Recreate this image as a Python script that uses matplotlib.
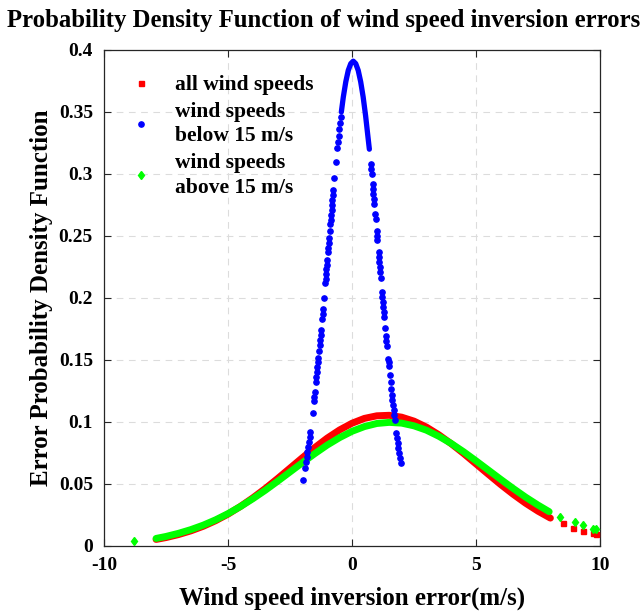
import matplotlib
matplotlib.use('Agg')
import matplotlib.pyplot as plt

# all wind speeds (dense part + isolated tail points)
all_x = [-7.9, -7.5, -7.0, -6.5, -6.0, -5.5, -5.0, -4.5, -4.0, -3.5, -3.0, -2.5, -2.0, -1.5, -1.0, -0.5,
         0.0, 0.5, 1.0, 1.5, 2.0, 2.5, 3.0, 3.5, 4.0, 4.5, 5.0, 5.5, 6.0, 6.5, 7.0, 7.5, 8.0]
all_y = [0.0053, 0.0068, 0.0092, 0.0122, 0.0159, 0.0204, 0.0257, 0.0319, 0.0388, 0.0463, 0.0544, 0.0628,
         0.0712, 0.0794, 0.0870, 0.0936, 0.0990, 0.1029, 0.1050, 0.1054, 0.1039, 0.1007, 0.0959, 0.0897,
         0.0825, 0.0746, 0.0662, 0.0578, 0.0495, 0.0417, 0.0345, 0.0281, 0.0225]
all_tail_x = [8.5, 8.9, 9.3, 9.7, 9.85]
all_tail_y = [0.0185, 0.0147, 0.0120, 0.0105, 0.0097]

# above 15 m/s
hi_x = [-7.9, -7.5, -7.0, -6.5, -6.0, -5.5, -5.0, -4.5, -4.0, -3.5, -3.0, -2.5, -2.0, -1.5, -1.0, -0.5,
        0.0, 0.5, 1.0, 1.5, 2.0, 2.5, 3.0, 3.5, 4.0, 4.5, 5.0, 5.5, 6.0, 6.5, 7.0, 7.5, 7.95]
hi_y = [0.0061, 0.0077, 0.0102, 0.0132, 0.0168, 0.0211, 0.0261, 0.0318, 0.0381, 0.0449, 0.0522, 0.0597,
        0.0672, 0.0745, 0.0814, 0.0874, 0.0925, 0.0963, 0.0988, 0.0997, 0.0991, 0.0969, 0.0934, 0.0885,
        0.0827, 0.0760, 0.0687, 0.0612, 0.0537, 0.0464, 0.0394, 0.0330, 0.0277]
hi_tail_x = [-8.8, 8.4, 9.0, 9.3, 9.7, 9.85]
hi_tail_y = [0.0040, 0.0234, 0.0194, 0.0170, 0.0137, 0.0135]

# below 15 m/s: dense top part + scattered samples
lo_top_x = [-0.43, -0.35, -0.25, -0.15, -0.05, 0.05, 0.15, 0.25, 0.35, 0.45, 0.55, 0.65, 0.70]
lo_top_y = [0.350, 0.3621, 0.3744, 0.3836, 0.389, 0.391, 0.389, 0.3836, 0.3744, 0.3621, 0.3467, 0.3288, 0.320]
lo_x = [-0.454, -0.483, -0.511, -0.539, -0.565, -0.591, -0.645, -0.706, -0.752, -0.770, -0.788, -0.806,
        -0.824, -0.841, -0.858, -0.871, -0.897, -0.923, -0.940, -0.958, -0.971, -0.997, -1.014, -1.031,
        -1.048, -1.065, -1.078, -1.131, -1.171, -1.189, -1.207, -1.248, -1.266, -1.285, -1.304, -1.328,
        -1.352, -1.372, -1.392, -1.412, -1.432, -1.453, -1.496, -1.518, -1.535, -1.592, -1.685, -1.712,
        -1.739, -1.767, -1.797, -1.827, -1.859, -1.900, -1.990,
        0.754, 0.773, 0.792, 0.829, 0.847, 0.865, 0.883, 0.901, 0.937, 0.954, 0.997, 1.014, 1.027,
        1.071, 1.088, 1.105, 1.122, 1.140, 1.161, 1.209, 1.227, 1.244, 1.262, 1.280, 1.297, 1.338,
        1.371, 1.390, 1.408, 1.457, 1.472, 1.487, 1.522, 1.553, 1.580, 1.607, 1.629, 1.652, 1.674,
        1.698, 1.722, 1.792, 1.819, 1.846, 1.874, 1.905, 1.934, 1.967]
lo_y = [0.346, 0.341, 0.336, 0.331, 0.326, 0.321, 0.310, 0.297, 0.287, 0.283, 0.279, 0.275,
        0.271, 0.267, 0.263, 0.260, 0.254, 0.248, 0.244, 0.240, 0.237, 0.231, 0.227, 0.223,
        0.219, 0.215, 0.212, 0.200, 0.191, 0.187, 0.183, 0.174, 0.170, 0.166, 0.162, 0.157,
        0.152, 0.148, 0.144, 0.140, 0.136, 0.132, 0.124, 0.120, 0.117, 0.107, 0.092, 0.088,
        0.084, 0.080, 0.076, 0.072, 0.068, 0.063, 0.053,
        0.308, 0.304, 0.300, 0.292, 0.288, 0.284, 0.280, 0.276, 0.268, 0.264, 0.254, 0.250, 0.247,
        0.237, 0.233, 0.229, 0.225, 0.221, 0.216, 0.205, 0.201, 0.197, 0.193, 0.189, 0.185, 0.176,
        0.169, 0.165, 0.161, 0.151, 0.148, 0.145, 0.138, 0.132, 0.127, 0.122, 0.118, 0.114, 0.110,
        0.106, 0.102, 0.091, 0.087, 0.083, 0.079, 0.075, 0.071, 0.067]

plt.rcParams['font.family'] = ['Liberation Serif', 'DejaVu Serif']
plt.rcParams['font.weight'] = 'bold'
plt.rcParams['axes.unicode_minus'] = False

fig = plt.figure(figsize=(6.43, 6.14), dpi=100)
ax = fig.add_axes([104 / 643, 68 / 614, 496 / 643, 496 / 614])

red = '#ff0000'
blue = '#0000ff'
green = '#00ff00'

ax.plot(all_x, all_y, color=red, lw=5, solid_capstyle='round', zorder=3)
h_all, = ax.plot(all_tail_x, all_tail_y, 's', color=red, ms=3.6, ls='none', zorder=3,
                 label='all wind speeds')
ax.plot(lo_top_x, lo_top_y, color=blue, lw=3.8, solid_capstyle='round', zorder=4)
h_lo, = ax.plot(lo_x, lo_y, 'o', color=blue, ms=3.8, ls='none', zorder=4,
                label='wind speeds\nbelow 15 m/s')
ax.plot(hi_x, hi_y, color=green, lw=5, solid_capstyle='round', zorder=3.5)
h_hi, = ax.plot(hi_tail_x, hi_tail_y, 'd', color=green, ms=4.5, ls='none', zorder=3.5,
                label='wind speeds\nabove 15 m/s')

ax.set_xlim(-10, 10)
ax.set_ylim(0, 0.4)
ax.set_xticks([-10, -5, 0, 5, 10])
ax.set_yticks([0, 0.05, 0.1, 0.15, 0.2, 0.25, 0.3, 0.35, 0.4])
ax.set_yticklabels(['0', '0.05', '0.1', '0.15', '0.2', '0.25', '0.3', '0.35', '0.4'])
ax.tick_params(direction='in', length=5, width=0.8, top=True, right=True,
               labelsize=14, colors='#262626', pad=8)
for lab in ax.get_xticklabels() + ax.get_yticklabels():
    lab.set_fontweight('bold')
    lab.set_color('black')
for s in ax.spines.values():
    s.set_color('#262626')
    s.set_linewidth(0.9)
ax.grid(True, ls=(0, (6, 5)), color='#dcdcdc', lw=0.8)
ax.set_axisbelow(True)

ax.set_xlabel('Wind speed inversion error(m/s)', fontsize=18, fontweight='bold', labelpad=9)
ax.set_ylabel('Error Probability Density Function', fontsize=18, fontweight='bold', labelpad=4)
fig.text(324 / 643, 1 - 20 / 614, 'Probability Density Function of wind speed inversion errors',
         ha='center', va='center', fontsize=17.8, fontweight='bold')

leg = ax.legend(handles=[h_all, h_lo, h_hi], loc='upper left', frameon=False,
                handlelength=1.0, handletextpad=1.1, labelspacing=0.3,
                borderaxespad=0.0, bbox_to_anchor=(0.035, 0.967), prop={'weight': 'bold', 'size': 15.5})
for t in leg.get_texts():
    t.set_linespacing(1.32)

fig.savefig('out.png', dpi=100)
